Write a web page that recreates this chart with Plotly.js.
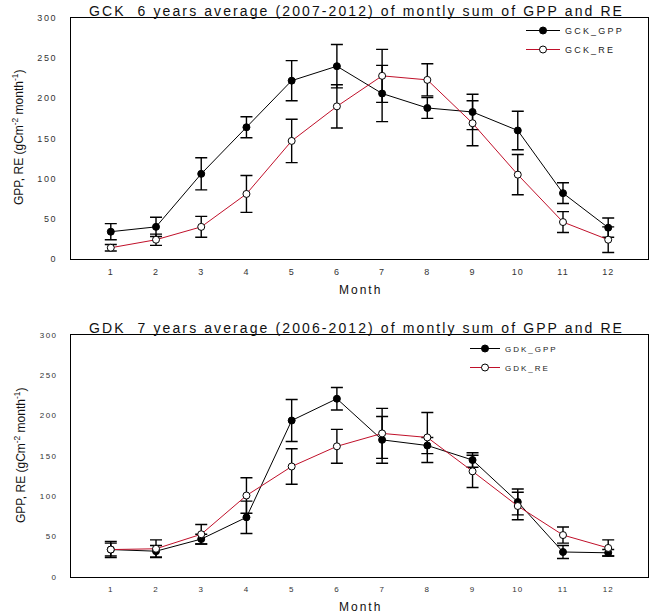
<!DOCTYPE html>
<html>
<head>
<meta charset="utf-8">
<script src="https://cdn.plot.ly/plotly-3.0.1.min.js"></script>
<style>
  html, body { margin:0; padding:0; background:#fff; }
  #chart { width:672px; height:616px; }
  .annotation[data-index="0"] text, .annotation[data-index="1"] text { letter-spacing: 2.1px; }
  .annotation[data-index="2"] text, .annotation[data-index="3"] text { letter-spacing: 2px; }
  .xtick text, .x2tick text { letter-spacing: 1px; }
  .ytick text { letter-spacing: 1.6px; }
  .y2tick text { letter-spacing: 1.4px; }
  text.legendtext { letter-spacing: 2.2px !important; }
</style>
</head>
<body>
<div id="chart"></div>
<script>
// ---- data ----
var months = [1, 2, 3, 4, 5, 6, 7, 8, 9, 10, 11, 12];
var monthTicks = ['1', '2', '3', '4', '5', '6', '7', '8', '9', '10', '11', '12'];

var gckGpp    = [34, 40, 106, 164, 222, 240, 206, 188, 183, 160, 82, 39];
var gckGppErr = [10, 12, 20, 13, 25, 27, 35, 13, 22, 24, 13, 12];
var gckRe     = [14, 24, 40, 81, 147, 190, 228, 223, 169, 105, 46, 24];
var gckReErr  = [4, 7, 13, 23, 27, 27, 33, 20, 28, 25, 13, 16];

var gdkGpp    = [34, 32, 47, 74, 194, 221, 170, 163, 145, 93, 31, 30];
var gdkGppErr = [10, 7, 6, 20, 26, 14, 29, 10, 9, 16, 8, 4];
var gdkRe     = [34, 35, 53, 101, 137, 162, 178, 173, 131, 88, 52, 36];
var gdkReErr  = [8, 11, 12, 22, 22, 21, 31, 31, 20, 17, 10, 10];

var yTicks = [0, 50, 100, 150, 200, 250, 300];

var FONT = 'Liberation Sans, Arial, sans-serif';
var RED = '#c0102a';

function errBar(arr) {
  return {type: 'data', array: arr, visible: true, color: '#000', thickness: 1.4, width: 6};
}

var traces = [
  {x: months, y: gckGpp, name: 'GCK_GPP', mode: 'lines+markers', xaxis: 'x', yaxis: 'y', legend: 'legend',
   line: {color: '#000', width: 1}, marker: {symbol: 'circle', size: 7, color: '#000', line: {color: '#000', width: 1}},
   error_y: errBar(gckGppErr)},
  {x: months, y: gckRe, name: 'GCK_RE', mode: 'lines+markers', xaxis: 'x', yaxis: 'y', legend: 'legend',
   line: {color: RED, width: 1}, marker: {symbol: 'circle', size: 7, color: '#fff', line: {color: '#000', width: 1}},
   error_y: errBar(gckReErr)},
  {x: months, y: gdkGpp, name: 'GDK_GPP', mode: 'lines+markers', xaxis: 'x2', yaxis: 'y2', legend: 'legend2',
   line: {color: '#000', width: 1}, marker: {symbol: 'circle', size: 7, color: '#000', line: {color: '#000', width: 1}},
   error_y: errBar(gdkGppErr)},
  {x: months, y: gdkRe, name: 'GDK_RE', mode: 'lines+markers', xaxis: 'x2', yaxis: 'y2', legend: 'legend2',
   line: {color: RED, width: 1}, marker: {symbol: 'circle', size: 7, color: '#fff', line: {color: '#000', width: 1}},
   error_y: errBar(gdkReErr)}
];

var W = 672, H = 616;
function px(x) { return x / W; }
function py(y) { return 1 - y / H; }

function xAx(anchor, size) {
  return {domain: [px(71), px(648)], anchor: anchor, range: [0.12, 12.88],
    tickmode: 'array', tickvals: months, ticktext: monthTicks,
    showgrid: false, zeroline: false, showline: true, linecolor: '#000', linewidth: 1, mirror: true,
    ticks: '', ticklabelstandoff: 4,
    tickfont: {family: FONT, size: size, color: '#333'}};
}
function yAx(anchor, top, bottom, size) {
  return {domain: [py(bottom), py(top)], anchor: anchor, range: [0, 300],
    tickmode: 'array', tickvals: yTicks,
    showgrid: false, zeroline: false, showline: true, linecolor: '#000', linewidth: 1, mirror: true,
    ticks: '', ticklabelstandoff: 11,
    tickfont: {family: FONT, size: size, color: '#333'}};
}

var layout = {
  width: W, height: H,
  margin: {l: 0, r: 0, t: 0, b: 0},
  paper_bgcolor: '#fff', plot_bgcolor: '#fff',
  font: {family: FONT, color: '#222'},
  showlegend: true,
  xaxis: xAx('y', 9),
  yaxis: yAx('x', 18, 259, 9),
  xaxis2: xAx('y2', 8),
  yaxis2: yAx('x2', 335, 577, 8),
  legend: {x: px(521), y: py(16), xanchor: 'left', yanchor: 'top', bgcolor: 'rgba(0,0,0,0)',
    borderwidth: 0, itemwidth: 34, font: {family: FONT, size: 9, color: '#222'}},
  legend2: {x: px(465), y: py(334), xanchor: 'left', yanchor: 'top', bgcolor: 'rgba(0,0,0,0)',
    borderwidth: 0, itemwidth: 30, font: {family: FONT, size: 8, color: '#222'}},
  annotations: [
    {text: 'GCK\u00a0 6 years average (2007-2012) of montly sum of GPP and RE', xref: 'paper', yref: 'paper',
     x: px(356), y: py(10.5), xanchor: 'center', yanchor: 'middle', showarrow: false,
     font: {family: FONT, size: 14, color: '#111'}},
    {text: 'GDK\u00a0 7 years average (2006-2012) of montly sum of GPP and RE', xref: 'paper', yref: 'paper',
     x: px(356), y: py(328), xanchor: 'center', yanchor: 'middle', showarrow: false,
     font: {family: FONT, size: 14, color: '#111'}},
    {text: 'Month', xref: 'paper', yref: 'paper', x: px(360), y: py(290), xanchor: 'center', yanchor: 'middle',
     showarrow: false, font: {family: FONT, size: 12, color: '#111'}},
    {text: 'Month', xref: 'paper', yref: 'paper', x: px(360), y: py(607), xanchor: 'center', yanchor: 'middle',
     showarrow: false, font: {family: FONT, size: 12, color: '#111'}},
    {text: 'GPP, RE (gCm<sup>-2</sup> month<sup>-1</sup>)', xref: 'paper', yref: 'paper', x: px(18), y: py(138),
     xanchor: 'center', yanchor: 'middle', textangle: -90, showarrow: false,
     font: {family: FONT, size: 12, color: '#111'}},
    {text: 'GPP, RE (gCm<sup>-2</sup> month<sup>-1</sup>)', xref: 'paper', yref: 'paper', x: px(20), y: py(456),
     xanchor: 'center', yanchor: 'middle', textangle: -90, showarrow: false,
     font: {family: FONT, size: 12, color: '#111'}}
  ]
};

Plotly.newPlot('chart', traces, layout, {displayModeBar: false, staticPlot: true}).then(function () {
  var svg = document.querySelector('#chart svg.main-svg');
  var all = document.querySelectorAll('#chart text');
  all.forEach(function (t) {
    var s = t.textContent;
    var isLegend = false;
    if (/^GDK_/.test(s)) { t.style.letterSpacing = '2px'; isLegend = true; }
    else if (/^GCK_/.test(s)) { t.style.letterSpacing = '2.2px'; isLegend = true; }
    if (isLegend) {
      // let the widened legend text show fully (legend box was measured before spacing)
      var n = t.parentNode;
      while (n && n.tagName && n.tagName.toLowerCase() !== 'svg') {
        if (n.hasAttribute && n.hasAttribute('clip-path')) { n.removeAttribute('clip-path'); }
        n = n.parentNode;
      }
    }
  });
});
</script>
</body>
</html>
